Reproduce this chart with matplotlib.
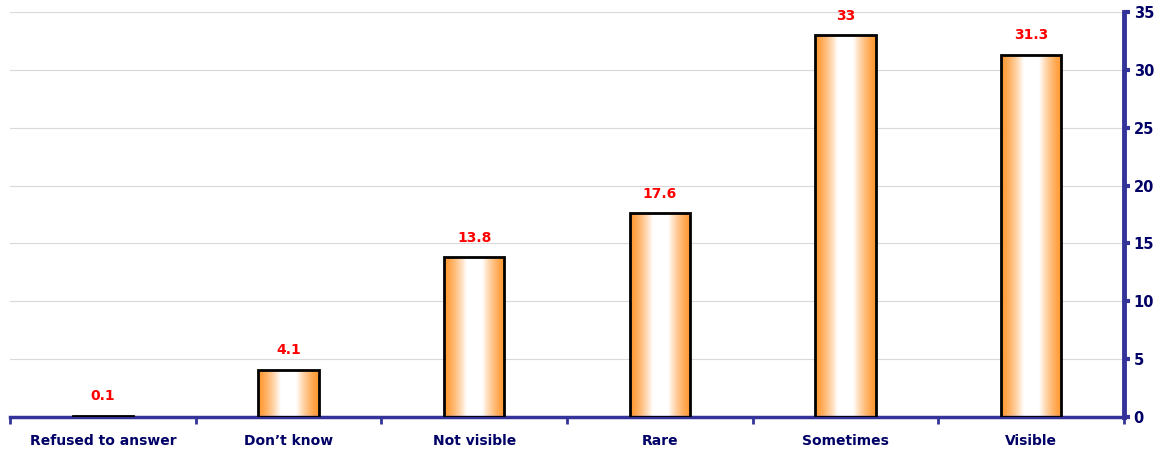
import numpy as np
import matplotlib
matplotlib.use("Agg")
import matplotlib.pyplot as plt
from matplotlib.colors import LinearSegmentedColormap
from matplotlib.patches import Rectangle

categories = ["Refused to answer", "Don\u2019t know", "Not visible", "Rare", "Sometimes", "Visible"]
values = [0.1, 4.1, 13.8, 17.6, 33, 31.3]
y_ticks = [0, 5, 10, 15, 20, 25, 30, 35]

navy = "#333399"
label_navy = "#000066"

fig = plt.figure(figsize=(11.65, 4.5), dpi=100)
ax = fig.add_axes([10 / 1165, 1 - 417 / 450, 1114 / 1165, 405 / 450])

n = len(categories)
x = np.arange(n)
bar_w = 0.325

ax.set_xlim(-0.5, n - 0.5)
ax.set_ylim(0, 35)

# horizontal orange -> white -> orange gradient used to fill the bars
u = np.linspace(0, 1, 256)
d = 1 - np.abs(2 * u - 1)
t = np.clip(d / 0.75, 0, 1) ** 1.4
grad = t[np.newaxis, :]
cmap = LinearSegmentedColormap.from_list("og", ["#FF9933", "#FFFFFF"])

bars = ax.bar(x, values, width=bar_w, color="none", edgecolor="black", linewidth=2, zorder=3)
for rect, v in zip(bars, values):
    x0 = rect.get_x()
    w = rect.get_width()
    im = ax.imshow(grad, cmap=cmap, vmin=0, vmax=1, aspect="auto",
                   extent=(x0, x0 + w, 0, v), zorder=2, interpolation="bilinear")
    clip = Rectangle((x0, 0), w, v, transform=ax.transData)
    im.set_clip_path(clip)
    ax.annotate(f"{v:g}", (rect.get_x() + w / 2, v), xytext=(0, 9),
                textcoords="offset points", ha="center", va="bottom",
                color="#FF0000", fontsize=10, fontweight="bold")

ax.set_xlim(-0.5, n - 0.5)
ax.set_ylim(0, 35)

# grid
ax.set_yticks(y_ticks)
ax.yaxis.grid(True, color="#D9D9D9", linewidth=0.8)
ax.set_axisbelow(True)

# y axis on the right
ax.yaxis.tick_right()
ax.tick_params(axis="y", which="major", direction="out", length=4, width=3,
               color=navy, labelcolor=label_navy, labelsize=10.5, pad=3)
for lbl in ax.get_yticklabels():
    lbl.set_fontweight("bold")

# x axis: ticks at category boundaries, labels at centers
ax.set_xticks(np.arange(-0.5, n, 1.0))
ax.set_xticklabels([""] * (n + 1))
ax.set_xticks(x, minor=True)
ax.set_xticklabels(categories, minor=True)
ax.tick_params(axis="x", which="major", direction="out", length=5, width=2, color=navy)
ax.tick_params(axis="x", which="minor", length=0, pad=12, labelcolor=label_navy, labelsize=10)
for lbl in ax.get_xticklabels(minor=True):
    lbl.set_fontweight("bold")

for side in ["top", "left"]:
    ax.spines[side].set_visible(False)
ax.spines["right"].set_color(navy)
ax.spines["right"].set_linewidth(3.5)
ax.spines["bottom"].set_color(navy)
ax.spines["bottom"].set_linewidth(2.5)

fig.savefig("out.png", dpi=100)
